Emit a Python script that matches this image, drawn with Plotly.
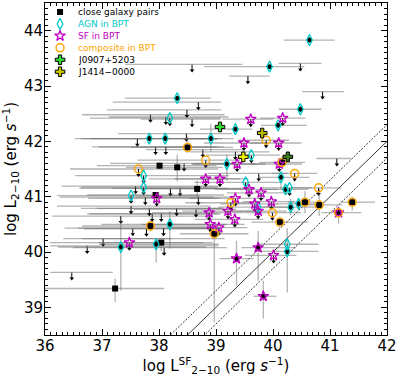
import plotly.graph_objects as go

# upper limits on L_2-10 without BPT class
ul_x = [38.58, 40.48, 39.56, 40.87, 38.69, 38.49, 37.85, 38.12, 38.58, 38.48, 37.62, 37.94, 38.12, 38.77, 38.44, 38.20, 38.37, 37.59, 37.76, 38.69,
        37.51, 37.83, 38.31, 38.65, 37.88, 38.04, 37.33, 37.54, 37.78, 38.08, 37.95, 37.02, 36.74, 38.09, 36.47, 39.34, 41.12, 39.75]
ul_y = [43.39, 43.41, 43.18, 42.90, 42.71, 42.57, 42.48, 42.44, 42.40, 42.14, 42.05, 41.90, 41.90, 41.85, 41.60, 41.15, 41.15, 41.19, 40.99, 40.99,
        40.83, 40.79, 40.79, 40.77, 40.69, 40.69, 40.65, 40.43, 40.42, 40.43, 40.24, 40.24, 40.11, 40.08, 39.63, 41.81, 41.69, 41.42]
ul_xm = [1.17, 0.38, 0.33, 0.36, 1.50, 1.40, 1.20, 1.00, 0.90, 1.20, 1.10, 1.00, 1.30, 1.00, 1.30, 1.60, 1.20, 1.30, 1.50, 1.10,
         1.30, 1.20, 1.40, 1.10, 1.10, 1.30, 1.20, 1.20, 1.10, 1.50, 1.30, 0.70, 0.65, 1.60, 0.38, 0.80, 0.36, 0.90]
ul_xp = [0.88, 0.37, 0.38, 0.38, 0.40, 0.60, 1.30, 1.10, 0.50, 0.80, 1.40, 1.20, 0.90, 0.70, 0.90, 1.00, 1.30, 1.50, 1.20, 0.60,
         1.40, 1.30, 0.80, 0.70, 1.20, 1.00, 1.60, 1.40, 1.30, 1.00, 1.20, 1.20, 2.30, 1.10, 0.72, 0.60, 0.25, 0.50]

# upper limits, AGN in BPT
agn_ul_x = [38.19, 37.73, 37.73, 37.51, 39.62, 39.52, 40.29, 39.74, 40.25]
agn_ul_y = [42.42, 41.38, 41.17, 41.02, 41.75, 41.26, 41.16, 40.81, 40.14]
agn_ul_xm = [1.40, 1.20, 1.10, 1.30, 0.80, 0.90, 0.50, 0.70, 0.50]
agn_ul_xp = [0.90, 1.50, 1.30, 1.20, 0.50, 0.60, 0.40, 0.50, 0.55]

# upper limits, SF in BPT
sf_ul_x = [39.61, 40.17, 39.49, 40.10, 39.37, 40.11, 38.82, 39.07, 39.58, 39.79, 39.34, 39.97, 39.68, 39.74, 39.21, 39.33, 38.88, 38.90, 39.05, 37.96, 37.48, 40.01]
sf_ul_y = [42.40, 42.42, 41.97, 41.97, 41.59, 41.59, 41.32, 41.32, 41.13, 41.07, 40.97, 40.91, 40.87, 40.74, 40.74, 40.59, 40.71, 40.50, 40.44, 40.97, 40.17, 39.94]
sf_ul_xm = [0.50, 0.40, 0.70, 0.50, 0.80, 0.50, 1.00, 0.80, 0.60, 0.60, 0.80, 0.50, 0.60, 0.60, 0.80, 0.70, 1.00, 1.20, 0.90, 1.20, 1.40, 0.50]
sf_ul_xp = [0.40, 0.40, 0.40, 0.40, 0.50, 0.40, 0.60, 0.50, 0.50, 0.40, 0.50, 0.40, 0.40, 0.50, 0.50, 0.50, 0.60, 0.60, 0.50, 1.10, 1.30, 0.40]

# upper limits, composite in BPT
comp_ul_x = [39.88, 38.82, 37.64, 40.38, 40.80, 39.26, 39.99]
comp_ul_y = [42.02, 41.66, 41.50, 41.42, 41.16, 40.89, 40.71]
comp_ul_xm = [0.50, 1.20, 1.20, 0.40, 0.50, 0.80, 0.50]
comp_ul_xp = [0.40, 0.60, 1.40, 0.40, 0.40, 0.50, 0.50]

# detections, AGN in BPT
agn_x = [40.64, 39.94, 38.32, 40.48, 40.09, 39.34, 37.83, 38.11, 38.91, 39.19, 40.14, 40.22, 40.31, 40.45, 40.25, 38.19, 37.95, 37.33]
agn_y = [43.83, 43.35, 42.78, 42.58, 42.29, 42.22, 42.05, 42.05, 42.05, 41.59, 41.35, 41.13, 40.81, 40.87, 40.01, 40.50, 40.14, 40.09]
agn_xm = [0.45, 1.15, 0.92, 0.38, 0.30, 0.62, 1.20, 1.30, 0.50, 0.60, 0.40, 0.40, 0.50, 0.40, 0.50, 1.20, 1.00, 1.10]
agn_xp = [0.44, 0.61, 0.59, 0.37, 0.50, 0.30, 1.20, 1.00, 0.40, 0.50, 0.50, 0.40, 0.50, 0.40, 0.55, 1.00, 1.10, 1.50]
agn_ym = [0.05, 0.05, 0.05, 0.05, 0.05, 0.05, 0.10, 0.10, 0.24, 0.30, 0.22, 0.10, 0.15, 0.10, 0.74, 0.44, 0.33, 0.79]
agn_yp = [0.05, 0.05, 0.05, 0.05, 0.05, 0.05, 0.10, 0.10, 0.27, 0.17, 0.10, 0.10, 0.15, 0.10, 0.42, 0.24, 0.10, 0.47]

# detections, SF in BPT
sf_x = [39.74, 39.36, 39.83]
sf_y = [40.08, 39.88, 39.20]
sf_xm = [0.29, 0.30, 0.17]
sf_xp = [0.66, 0.30, 0.23]
sf_ym = [0.60, 0.49, 0.40]
sf_yp = [0.30, 0.32, 0.28]

# detections, composite in BPT (all close pairs); the last one is also SF
comp_x = [38.50, 40.16, 37.85, 38.97, 40.12, 40.56, 40.81, 41.39, 41.15]
comp_y = [41.89, 41.62, 40.47, 40.33, 40.54, 40.90, 40.85, 40.90, 40.71]
comp_xm = [1.00, 0.40, 1.20, 0.60, 0.50, 0.30, 0.30, 0.20, 0.30]
comp_xp = [0.80, 0.40, 1.20, 0.60, 0.50, 0.30, 0.40, 0.40, 0.40]
comp_ym = [0.10, 0.10, 0.10, 1.60, 0.10, 0.20, 0.20, 0.15, 0.20]
comp_yp = [0.20, 0.10, 0.10, 0.10, 0.10, 0.20, 0.20, 0.10, 0.10]
comp_also_sf = [8]

# detections, close pairs without BPT class
pair_x = [38.01, 38.32, 38.67, 37.94, 38.04, 37.23]
pair_y = [41.56, 41.53, 41.14, 41.03, 40.17, 39.34]
pair_xm = [1.10, 0.90, 1.00, 1.20, 1.10, 1.23]
pair_xp = [1.00, 0.80, 1.00, 1.20, 0.90, 0.86]
pair_ym = [0.05, 0.25, 0.15, 0.05, 0.15, 0.25]
pair_yp = [0.05, 0.23, 0.15, 0.05, 0.05, 0.18]

j0907_x = [39.07, 40.26]
j0907_y = [42.26, 41.72]
j1414_x = [39.81, 39.48]
j1414_y = [42.15, 41.72]

one_to_one = [-0.3, 0.0, 0.3]
x_range = [36, 42]
y_range = [38.5, 44.5]

CYAN = '#00c8c8'
MAG = '#c000c0'
ORANGE = '#ffa500'
BAR = 'rgba(105,105,105,0.5)'
ARROW = 0.11

fig = go.Figure()

for off in one_to_one:
    fig.add_trace(go.Scatter(
        x=x_range, y=[v - off for v in x_range], mode='lines',
        line=dict(color='black', width=0.8, dash='solid' if off == 0 else '2px,1.5px'),
        hoverinfo='skip'))

# all upper limits: horizontal bar + downward arrow
lx = ul_x + agn_ul_x + sf_ul_x + comp_ul_x
ly = ul_y + agn_ul_y + sf_ul_y + comp_ul_y
lxm = ul_xm + agn_ul_xm + sf_ul_xm + comp_ul_xm
lxp = ul_xp + agn_ul_xp + sf_ul_xp + comp_ul_xp
fig.add_trace(go.Scatter(
    x=lx, y=ly, mode='markers', marker=dict(size=1, color='rgba(0,0,0,0)'),
    error_x=dict(type='data', symmetric=False, array=lxp, arrayminus=lxm, color=BAR, thickness=1.3, width=0),
    error_y=dict(type='data', symmetric=False, array=[0] * len(ly), arrayminus=[ARROW] * len(ly),
                 color='black', thickness=1, width=0),
    hoverinfo='skip'))
fig.add_trace(go.Scatter(
    x=lx, y=[v - ARROW for v in ly], mode='markers',
    marker=dict(symbol='triangle-down', size=4, color='black'),
    hoverinfo='skip'))

# detections: black dot with error bars
dx = agn_x + sf_x + comp_x + pair_x
dy = agn_y + sf_y + comp_y + pair_y
fig.add_trace(go.Scatter(
    x=dx, y=dy, mode='markers', marker=dict(size=5, color='black'),
    error_x=dict(type='data', symmetric=False, array=agn_xp + sf_xp + comp_xp + pair_xp,
                 arrayminus=agn_xm + sf_xm + comp_xm + pair_xm, color=BAR, thickness=1.3, width=0),
    error_y=dict(type='data', symmetric=False, array=agn_yp + sf_yp + comp_yp + pair_yp,
                 arrayminus=agn_ym + sf_ym + comp_ym + pair_ym, color=BAR, thickness=1.3, width=0),
    hoverinfo='skip'))

sq = dict(symbol='square', size=6, color='black')
dia = dict(symbol='diamond-tall-open', size=8, color=CYAN, line=dict(width=1.3))
star = dict(symbol='star-open', size=8, color=MAG, line=dict(width=1.3))
circ = dict(symbol='circle-open', size=8, color=ORANGE, line=dict(width=1.4))
crs_a = dict(symbol='cross', size=8, color='#33dd33', line=dict(width=1, color='black'))
crs_b = dict(symbol='cross', size=8, color='#c8c800', line=dict(width=1, color='black'))

fig.add_trace(go.Scatter(x=comp_x + pair_x, y=comp_y + pair_y, mode='markers', marker=sq))
fig.add_trace(go.Scatter(x=agn_ul_x + agn_x, y=agn_ul_y + agn_y, mode='markers', marker=dia))
fig.add_trace(go.Scatter(x=sf_ul_x + sf_x + [comp_x[i] for i in comp_also_sf],
                         y=sf_ul_y + sf_y + [comp_y[i] for i in comp_also_sf], mode='markers', marker=star))
fig.add_trace(go.Scatter(x=comp_ul_x + comp_x, y=comp_ul_y + comp_y, mode='markers', marker=circ))
fig.add_trace(go.Scatter(x=j0907_x, y=j0907_y, mode='markers',
                         marker=dict(crs_a, color=['#33dd33', '#3d7a1a'])))
fig.add_trace(go.Scatter(x=j1414_x, y=j1414_y, mode='markers',
                         marker=dict(crs_b, color=['#b5b500', '#f0f000'])))

# compact legend (plotly's own legend rows are too tall)
leg_labels = ['close galaxy pairs', 'AGN in BPT', 'SF in BPT', 'composite in BPT', 'J0907+5203', 'J1414\u22120000']
leg_colors = ['black', CYAN, MAG, ORANGE, 'black', 'black']
leg_markers = [sq, dia, star, circ, crs_a, crs_b]
LEG_X, LEG_TOP, LEG_STEP = 0.044, 0.973, 0.036
for i, (lab, col, mk) in enumerate(zip(leg_labels, leg_colors, leg_markers)):
    yy = LEG_TOP - i * LEG_STEP
    fig.add_trace(go.Scatter(x=[LEG_X], y=[yy], xaxis='x2', yaxis='y2', mode='markers',
                             marker=mk, hoverinfo='skip'))
    fig.add_annotation(x=LEG_X + 0.046, y=yy, xref='paper', yref='paper', text=lab,
                       showarrow=False, xanchor='left', yanchor='middle',
                       font=dict(size=9, color=col))

axis_common = dict(
    showline=True, linecolor='black', linewidth=1, mirror='allticks',
    ticks='inside', ticklen=6, tickcolor='black', dtick=1,
    minor=dict(ticks='inside', ticklen=3, dtick=0.1, tickcolor='black'),
    showgrid=False, zeroline=False,
    tickfont=dict(size=15, color='black'),
)
fig.update_xaxes(range=x_range, ticklabelstandoff=-3,
                 title=dict(text='log L<sup>SF</sup><sub>2\u221210</sub> (erg <i>s</i><sup>\u22121</sup>)',
                            font=dict(size=15), standoff=0), **axis_common)
fig.update_yaxes(range=y_range, ticklabelstandoff=-2,
                 title=dict(text='log L<sub>2\u221210</sub> (erg <i>s</i><sup>\u22121</sup>)',
                            font=dict(size=15), standoff=6), **axis_common)

fig.update_layout(
    width=399, height=378,
    margin=dict(l=45, r=10, t=2, b=43),
    plot_bgcolor='white', paper_bgcolor='white',
    font=dict(family='DejaVu Sans', color='black'),
    showlegend=False,
    xaxis2=dict(overlaying='x', range=[0, 1], visible=False),
    yaxis2=dict(overlaying='y', range=[0, 1], visible=False),
)

fig.write_html("out.html", config={'displayModeBar': False},
               post_script="document.body.style.margin='0';")
